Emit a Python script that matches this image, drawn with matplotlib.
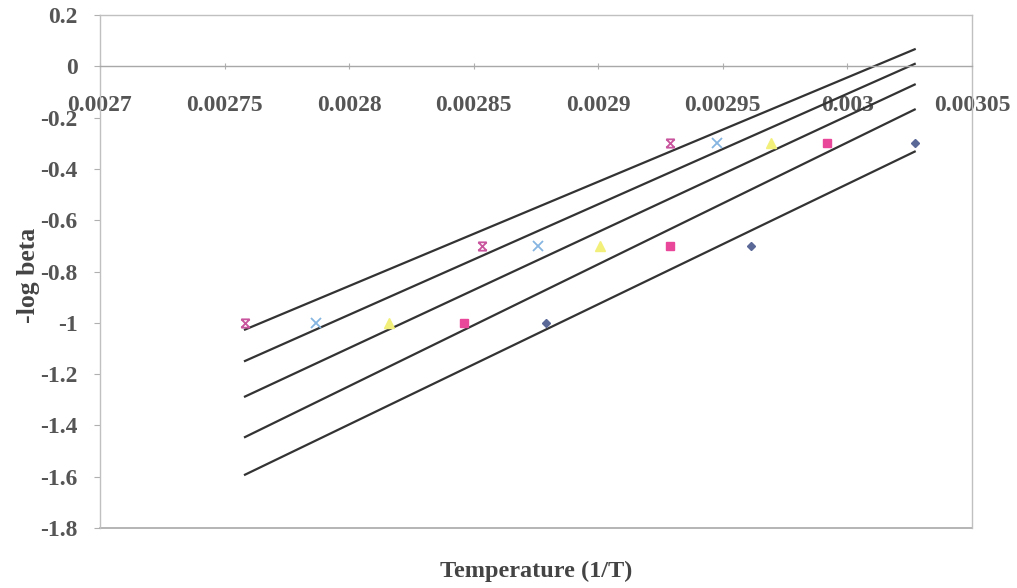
import numpy as np
import matplotlib
matplotlib.use("Agg")
import matplotlib.pyplot as plt
from matplotlib.path import Path

# ---- data ----
y_levels = [-1.0, -0.7, -0.3]
x_star = [0.0027582, 0.0028532, 0.0029287]      # purple star
x_xblue = [0.0027867, 0.0028759, 0.0029477]     # light blue x
x_tri = [0.0028161, 0.0029006, 0.0029695]       # yellow triangle
x_square = [0.0028461, 0.0029287, 0.0029916]    # pink square
x_diamond = [0.0028790, 0.0029611, 0.0030270]   # navy diamond

x_ticks = [0.0027, 0.00275, 0.0028, 0.00285, 0.0029, 0.00295, 0.003, 0.00305]
x_tick_labels = ["0.0027", "0.00275", "0.0028", "0.00285", "0.0029", "0.00295", "0.003", "0.00305"]
y_ticks = [0.2, 0, -0.2, -0.4, -0.6, -0.8, -1, -1.2, -1.4, -1.6, -1.8]
y_tick_labels = ["0.2", "0", "-0.2", "-0.4", "-0.6", "-0.8", "-1", "-1.2", "-1.4", "-1.6", "-1.8"]

plt.rcParams['font.family'] = ['Liberation Serif', 'DejaVu Serif']

W, H = 1017, 588
fig = plt.figure(figsize=(W / 100, H / 100), dpi=100)
ax = fig.add_axes([100 / W, (H - 528) / H, 872 / W, 513 / H])
ax.set_xlim(0.0027, 0.00305)
ax.set_ylim(-1.8, 0.2)

star_path = Path([(-1, -1), (1, 1), (-1, 1), (1, -1), (-1, 1), (1, 1), (-1, -1), (1, -1)],
                 [Path.MOVETO, Path.LINETO, Path.MOVETO, Path.LINETO,
                  Path.MOVETO, Path.LINETO, Path.MOVETO, Path.LINETO])

series = [
    (x_star, dict(marker=star_path, color='#c8559e', markersize=6, mfc='none', mew=1.3)),
    (x_xblue, dict(marker='x', color='#85b5e0', markersize=6.5, mew=1.3)),
    (x_tri, dict(marker='^', color='#f2f07a', markersize=6.5, mec='#f2f07a')),
    (x_square, dict(marker='s', color='#e8479a', markersize=5.5, mec='#e8479a')),
    (x_diamond, dict(marker='D', color='#5a6898', markersize=4.5, mec='#5a6898')),
]

all_x = np.concatenate([s[0] for s in series])
xr = np.array([all_x.min(), all_x.max()])
for xs, st in series:
    coef = np.polyfit(xs, y_levels, 1)
    ax.plot(xr, np.polyval(coef, xr), color='#333333', lw=1.6, zorder=2)
for xs, st in series:
    ax.plot(xs, y_levels, linestyle='none', zorder=3, **st)

# axes styling
for s in ['top', 'right', 'left']:
    ax.spines[s].set_color('#c0c0c0')
    ax.spines[s].set_linewidth(1.0)
ax.spines['bottom'].set_position(('data', 0))
ax.spines['bottom'].set_color('#a8a8a8')
ax.spines['bottom'].set_linewidth(1.0)
ax.plot([0, 1], [0, 0], transform=ax.transAxes, color='#a8a8a8', lw=1.2, clip_on=False)

ax.set_xticks(x_ticks)
ax.set_xticklabels(x_tick_labels)
ax.set_yticks(y_ticks)
ax.set_yticklabels(y_tick_labels)
ax.tick_params(axis='x', direction='inout', length=4, color='#b0b0b0', pad=19,
               labelsize=17, labelcolor='#555555')
ax.tick_params(axis='y', direction='out', length=4, color='#b0b0b0', pad=12,
               labelsize=17, labelcolor='#555555')
for lab in ax.get_xticklabels() + ax.get_yticklabels():
    lab.set_fontweight('bold')

fig.text(28 / W, 1 - 275 / H, '-log beta', rotation=90, ha='center', va='center',
         fontsize=18.5, fontweight='bold', color='#444444')
fig.text(536 / W, 1 - 571 / H, 'Temperature (1/T)', ha='center', va='center',
         fontsize=17.5, fontweight='bold', color='#444444')

fig.savefig('out.png', dpi=100)
